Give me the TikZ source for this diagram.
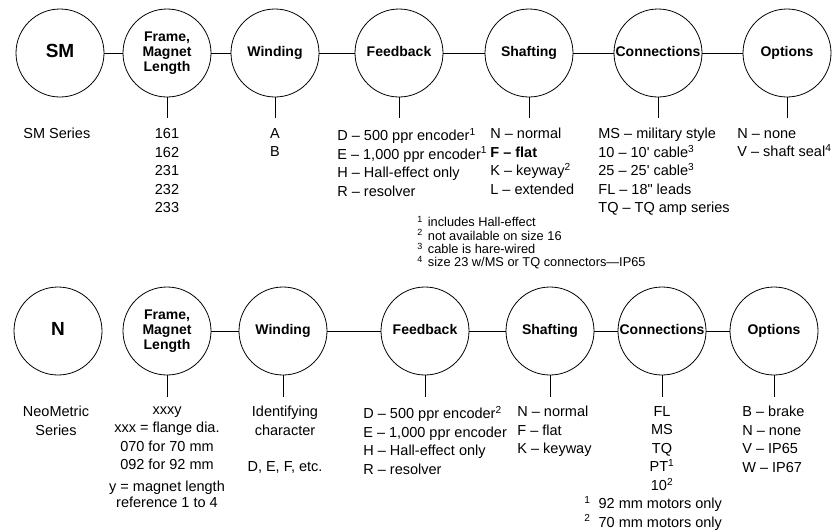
\documentclass[tikz,border=0pt]{standalone}
\usepackage{fontspec}
\setmainfont{Liberation Sans}[Ligatures=TeXOff]
\newcommand{\supnum}[1]{\textsuperscript{#1}}
\begin{document}
\begin{tikzpicture}[x=1pt,y=-1pt,line join=round,line width=0.8pt,
	part/.style={circle,draw,minimum size=88pt,inner sep=0pt,align=center,font=\fontsize{14}{15}\selectfont\bfseries,execute at begin node={\vphantom{Fg}}},
	series/.style={part,font=\fontsize{19}{20}\selectfont\bfseries,execute at begin node={}},
	txt/.style={inner sep=0pt,font=\fontsize{14.5}{18.5}\selectfont},
	note/.style={inner sep=0pt,align=left,font=\fontsize{12.8}{13.3}\selectfont}]
	\useasboundingbox (0,0) rectangle (832,531);
	% SM series
	\node[series] (sm) at (60,53) {SM};
	\foreach \nom/\x/\txt in {fa/167/{Frame,\\Magnet\\Length},wa/275/Winding,fba/399/Feedback,sha/529/Shafting,ca/658/Connections,oa/787/Options}{
		\node[part] (\nom) at (\x,53) {\txt};
		\draw (\nom.south) -- ++(0,21);
	}
	\foreach \a/\b in {sm/fa,fa/wa,wa/fba,fba/sha,sha/ca,ca/oa}{
		\draw (\a) -- (\b);
	}
	\node[txt,anchor=north west] (smtxt) at (23,128) {SM Series};
	\node[txt,align=center,anchor=north] (fatxt) at (167,128) {161\\162\\231\\232\\233};
	\node[txt,align=center,anchor=north] (watxt) at (275,128) {A\\B};
	\node[txt,align=left,anchor=north west] (fbatxt) at (337,128) {D – 500 ppr encoder\supnum{1}\\E – 1,000 ppr encoder\supnum{1}\\H – Hall-effect only\\R – resolver};
	\node[txt,align=left,anchor=north west] (shatxt) at (490,128) {N – normal\\\textbf{F – flat}\\K – keyway\supnum{2}\\L – extended};
	\node[txt,align=left,anchor=north west] (catxt) at (598,128) {MS – military style\\10 – 10' cable\supnum{3}\\25 – 25' cable\supnum{3}\\FL – 18" leads\\TQ – TQ amp series};
	\node[txt,align=left,anchor=north west] (oatxt) at (737,128) {N – none\\V – shaft seal\supnum{4}};
	\node[note,anchor=north west] (notea) at (417,216) {\supnum{1}\hspace{5pt}includes Hall-effect\\\supnum{2}\hspace{5pt}not available on size 16\\\supnum{3}\hspace{5pt}cable is hare-wired\\\supnum{4}\hspace{5pt}size 23 w/MS or TQ connectors—IP65};
	% NeoMetric series
	\node[series] (nm) at (58,331) {N};
	\foreach \nom/\x/\txt in {fb/167/{Frame,\\Magnet\\Length},wb/283/Winding,fbb/425/Feedback,shb/550/Shafting,cb/662/Connections,ob/774/Options}{
		\node[part] (\nom) at (\x,331) {\txt};
		\draw (\nom.south) -- ++(0,22);
	}
	\foreach \a/\b in {fb/wb,wb/fbb,fbb/shb,shb/cb,cb/ob}{
		\draw (\a) -- (\b);
	}
	\node[txt,align=center,anchor=north] (nmtxt) at (56,406) {NeoMetric\\Series};
	\node[txt,align=center,anchor=north] (fbtxt) at (167,406) {xxxy\\xxx = flange dia.\\070 for 70 mm\\092 for 92 mm\\[3.5pt]y = magnet length\\[-2.5pt]reference 1 to 4};
	\node[txt,align=center,anchor=north] (wbtxt) at (285,406) {Identifying\\character\\[17.5pt]D, E, F, etc.};
	\node[txt,align=left,anchor=north west] (fbbtxt) at (363,406) {D – 500 ppr encoder\supnum{2}\\E – 1,000 ppr encoder\\H – Hall-effect only\\R – resolver};
	\node[txt,align=left,anchor=north west] (shbtxt) at (517,406) {N – normal\\F – flat\\K – keyway};
	\node[txt,align=center,anchor=north] (cbtxt) at (662,406) {FL\\MS\\TQ\\PT\supnum{1}\\10\supnum{2}};
	\node[txt,align=left,anchor=north west] (obtxt) at (742,406) {B – brake\\N – none\\V – IP65\\W – IP67};
	\node[txt,align=left,anchor=north west] (noteb) at (584,496) {\supnum{1}\ \ 92 mm motors only\\\supnum{2}\ \ 70 mm motors only};
\end{tikzpicture}
\end{document}
